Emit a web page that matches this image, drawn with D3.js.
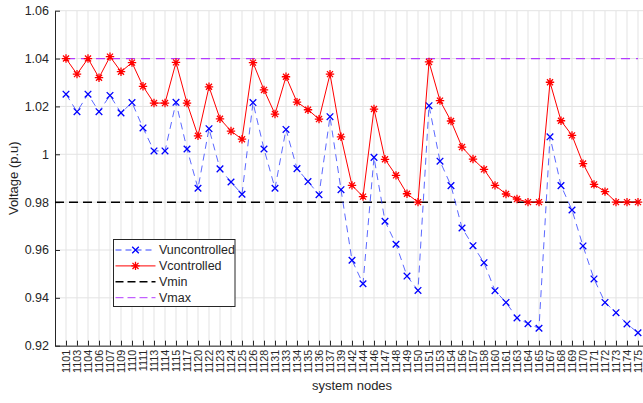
<!DOCTYPE html>
<html>
<head>
<meta charset="utf-8">
<script src="https://cdn.jsdelivr.net/npm/d3@7"></script>
<style>
  body { margin: 0; background: #fff; }
  svg { display: block; font-family: "Liberation Sans", Arial, sans-serif; }
</style>
</head>
<body>
<svg id="chart" width="643" height="403"></svg>
<script>
// bus numbers along the feeder
var nodes = [1101,1103,1104,1106,1107,1109,1110,1111,1113,1114,1115,1117,1120,1122,1123,
  1124,1125,1126,1128,1131,1133,1134,1135,1136,1137,1139,1142,1144,1146,1147,1148,1149,
  1150,1151,1153,1154,1156,1157,1158,1160,1161,1163,1164,1165,1167,1168,1169,1170,1171,
  1172,1173,1174,1175];

var vUncontrolled = [1.0251,1.0178,1.0251,1.0178,1.0246,1.0173,1.0216,1.0110,1.0014,1.0014,
  1.0217,1.0022,0.9858,1.0107,0.9939,0.9884,0.9833,1.0216,1.0022,0.9858,1.0104,0.9940,
  0.9886,0.9831,1.0157,0.9852,0.9557,0.9459,0.9987,0.9720,0.9624,0.9491,0.9431,1.0203,
  0.9971,0.9869,0.9692,0.9618,0.9547,0.9430,0.9381,0.9316,0.9292,0.9273,1.0073,0.9869,
  0.9767,0.9617,0.9479,0.9381,0.9338,0.9291,0.9254];

var vControlled = [1.0400,1.0335,1.0400,1.0320,1.0408,1.0345,1.0383,1.0284,1.0214,1.0214,
  1.0384,1.0214,1.0077,1.0282,1.0148,1.0097,1.0063,1.0383,1.0269,1.0168,1.0324,1.0218,
  1.0186,1.0147,1.0335,1.0073,0.9870,0.9823,1.0189,0.9979,0.9912,0.9835,0.9800,1.0386,
  1.0224,1.0139,1.0030,0.9980,0.9937,0.9870,0.9834,0.9813,0.9800,0.9800,1.0301,1.0140,
  1.0079,0.9961,0.9874,0.9844,0.9800,0.9800,0.9800];

var vMin = 0.98;
var vMax = 1.04;
var yTicks = [0.92,0.94,0.96,0.98,1.00,1.02,1.04,1.06];

var svg = d3.select("#chart");
var textCol = "#262626";

var x = d3.scaleLinear().domain([0, nodes.length + 1]).range([55, 649]);
var y = d3.scaleLinear().domain([0.92, 1.06]).range([345.7, 10.7]);

var idx = nodes.map(function(d, i){ return i + 1; });

// grid
var grid = svg.append("g").attr("class", "grid");
grid.selectAll("line.gx")
    .data(idx)
    .enter().append("line")
    .attr("x1", function(d){ return x(d); })
    .attr("x2", function(d){ return x(d); })
    .attr("y1", y(0.92)).attr("y2", y(1.06))
    .attr("stroke", "#e3e3e3").attr("stroke-width", 1);
grid.selectAll("line.gy")
    .data(yTicks)
    .enter().append("line")
    .attr("x1", x(0)).attr("x2", x(nodes.length + 1))
    .attr("y1", function(d){ return y(d); })
    .attr("y2", function(d){ return y(d); })
    .attr("stroke", "#e3e3e3").attr("stroke-width", 1);

// axes
var yAxis = d3.axisLeft(y)
    .tickValues(yTicks)
    .tickFormat(function(d){ return String(+d.toFixed(2)); })
    .tickSizeInner(-5).tickSizeOuter(0).tickPadding(6);
var gy = svg.append("g").attr("transform", "translate(" + x(0) + ",0)").call(yAxis);
gy.selectAll("text").attr("font-size", 12.5).attr("fill", textCol).attr("font-family", null);

var xAxis = d3.axisBottom(x)
    .tickValues(idx)
    .tickFormat(function(d){ return nodes[d - 1]; })
    .tickSizeInner(-5).tickSizeOuter(0);
var gx = svg.append("g").attr("transform", "translate(0," + y(0.92) + ")").call(xAxis);
gx.selectAll("text")
    .attr("transform", "rotate(-90)")
    .attr("x", -4).attr("y", 0).attr("dy", "0.33em")
    .attr("text-anchor", "end")
    .attr("font-size", 10.8).attr("fill", textCol).attr("font-family", null);

[gx, gy].forEach(function(g){
  g.select(".domain").attr("stroke", textCol);
  g.selectAll(".tick line").attr("stroke", textCol);
});

// labels
svg.append("text")
    .attr("x", (x(1) + x(nodes.length)) / 2).attr("y", 390)
    .attr("text-anchor", "middle").attr("font-size", 13).attr("fill", textCol)
    .text("system nodes");
svg.append("text")
    .attr("transform", "translate(18," + ((y(0.92) + y(1.06)) / 2) + ") rotate(-90)")
    .attr("text-anchor", "middle").attr("font-size", 13).attr("fill", textCol)
    .text("Voltage (p.u)");

// limits
svg.append("line")
    .attr("x1", x(0)).attr("x2", x(nodes.length + 1))
    .attr("y1", y(vMin)).attr("y2", y(vMin))
    .attr("stroke", "#000").attr("stroke-width", 1.5).attr("stroke-dasharray", "9,5");
svg.append("line")
    .attr("x1", x(1)).attr("x2", x(nodes.length))
    .attr("y1", y(vMax)).attr("y2", y(vMax))
    .attr("stroke", "#b43cff").attr("stroke-width", 1.2).attr("stroke-dasharray", "9,6");

var line = d3.line()
    .x(function(d, i){ return x(i + 1); })
    .y(function(d){ return y(d); });

// uncontrolled
svg.append("path")
    .datum(vUncontrolled)
    .attr("d", line)
    .attr("fill", "none").attr("stroke", "#3344ff").attr("stroke-opacity", 0.8)
    .attr("stroke-width", 1).attr("stroke-dasharray", "7,5");

function crossPath(r){
  return "M" + (-r) + "," + (-r) + "L" + r + "," + r + "M" + (-r) + "," + r + "L" + r + "," + (-r);
}
function starPath(r){
  var s = r * 0.72;
  return "M" + (-r) + ",0L" + r + ",0M0," + (-r) + "L0," + r +
    "M" + (-s) + "," + (-s) + "L" + s + "," + s + "M" + (-s) + "," + s + "L" + s + "," + (-s);
}

svg.append("g").selectAll("path")
    .data(vUncontrolled)
    .enter().append("path")
    .attr("transform", function(d, i){ return "translate(" + x(i + 1) + "," + y(d) + ")"; })
    .attr("d", crossPath(3.3))
    .attr("stroke", "#0000ff").attr("stroke-width", 1.3).attr("fill", "none");

// controlled
svg.append("path")
    .datum(vControlled)
    .attr("d", line)
    .attr("fill", "none").attr("stroke", "#ff0000").attr("stroke-width", 1);

svg.append("g").selectAll("path")
    .data(vControlled)
    .enter().append("path")
    .attr("transform", function(d, i){ return "translate(" + x(i + 1) + "," + y(d) + ")"; })
    .attr("d", starPath(4.2))
    .attr("stroke", "#ff0000").attr("stroke-width", 1.3).attr("fill", "none");

// legend
var legendItems = [
  {name: "Vuncontrolled", color: "#3344ff", dash: "6,4", marker: "x"},
  {name: "Vcontrolled", color: "#ff0000", dash: null, marker: "*"},
  {name: "Vmin", color: "#000", dash: "8,4", marker: null},
  {name: "Vmax", color: "#b43cff", dash: "8,4", marker: null}
];
var lg = svg.append("g").attr("transform", "translate(113.5,239.5)");
lg.append("rect")
    .attr("width", 121.5).attr("height", 67)
    .attr("fill", "#fff").attr("stroke", textCol).attr("stroke-width", 1);
var row = lg.selectAll("g.item")
    .data(legendItems)
    .enter().append("g")
    .attr("transform", function(d, i){ return "translate(0," + (10.5 + i * 15.9) + ")"; });
row.append("line")
    .attr("x1", 2).attr("x2", 42)
    .attr("stroke", function(d){ return d.color; })
    .attr("stroke-width", function(d){ return d.name == "Vmin" ? 1.5 : 1; })
    .attr("stroke-dasharray", function(d){ return d.dash; });
row.filter(function(d){ return d.marker; })
    .append("path")
    .attr("transform", "translate(22,0)")
    .attr("d", function(d){ return d.marker == "x" ? crossPath(3.3) : starPath(4.2); })
    .attr("stroke", function(d){ return d.marker == "x" ? "#0000ff" : "#ff0000"; })
    .attr("stroke-width", 1.3).attr("fill", "none");
row.append("text")
    .attr("x", 45.5).attr("dy", "0.35em")
    .attr("font-size", 12.5).attr("fill", textCol)
    .text(function(d){ return d.name; });
</script>
</body>
</html>
